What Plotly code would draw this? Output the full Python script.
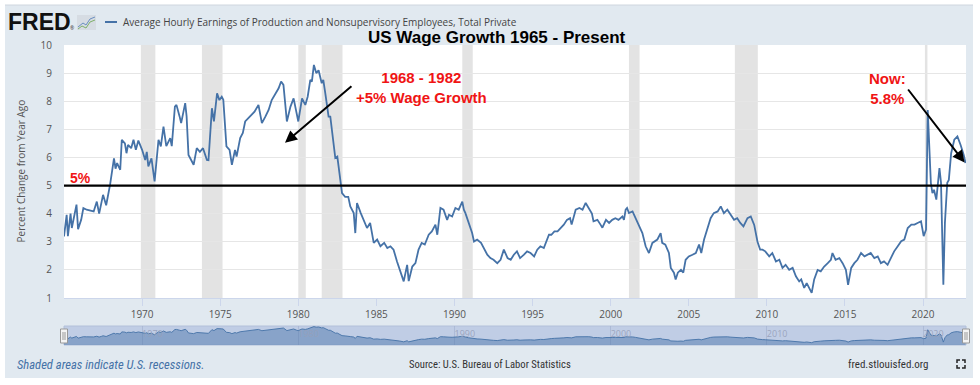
import plotly.graph_objects as go

# ---------------- data ----------------
years = [
    1965.00, 1965.17, 1965.25, 1965.42, 1965.50, 1965.80, 1965.90, 1966.10, 1966.24, 1966.45,
    1966.90, 1967.10, 1967.25, 1967.40, 1967.50, 1967.70, 1967.95, 1968.20, 1968.30, 1968.40,
    1968.60, 1968.70, 1968.90, 1969.00, 1969.10, 1969.30, 1969.45, 1969.60, 1969.76, 1970.00,
    1970.20, 1970.30, 1970.40, 1970.60, 1970.80, 1971.05, 1971.20, 1971.37, 1971.55, 1971.80,
    1971.90, 1972.10, 1972.20, 1972.40, 1972.50, 1972.76, 1972.85, 1972.97, 1973.20, 1973.30,
    1973.50, 1973.70, 1973.90, 1974.15, 1974.25, 1974.47, 1974.60, 1974.80, 1974.95, 1975.10,
    1975.20, 1975.30, 1975.40, 1975.60, 1975.75, 1975.95, 1976.05, 1976.28, 1976.45, 1976.60,
    1976.80, 1977.00, 1977.20, 1977.45, 1977.67, 1977.90, 1978.10, 1978.30, 1978.50, 1978.74,
    1978.90, 1979.05, 1979.27, 1979.50, 1979.70, 1979.90, 1980.00, 1980.24, 1980.45, 1980.60,
    1980.77, 1980.87, 1981.00, 1981.15, 1981.30, 1981.50, 1981.60, 1981.73, 1981.94, 1982.05,
    1982.26, 1982.37, 1982.50, 1982.70, 1982.80, 1983.00, 1983.20, 1983.33, 1983.55, 1983.65,
    1983.76, 1984.00, 1984.20, 1984.40, 1984.60, 1984.83, 1985.05, 1985.26, 1985.50, 1985.70,
    1985.90, 1986.10, 1986.32, 1986.50, 1986.75, 1986.97, 1987.07, 1987.30, 1987.50, 1987.70,
    1987.90, 1988.10, 1988.35, 1988.55, 1988.78, 1988.90, 1989.10, 1989.30, 1989.53, 1989.65,
    1989.85, 1990.06, 1990.27, 1990.50, 1990.60, 1990.70, 1990.90, 1991.13, 1991.25, 1991.45,
    1991.70, 1991.90, 1992.10, 1992.30, 1992.50, 1992.74, 1992.95, 1993.16, 1993.40, 1993.60,
    1993.80, 1994.00, 1994.20, 1994.45, 1994.65, 1994.87, 1995.10, 1995.30, 1995.50, 1995.72,
    1995.90, 1996.05, 1996.20, 1996.40, 1996.60, 1996.80, 1997.00, 1997.20, 1997.40, 1997.50,
    1997.76, 1998.00, 1998.20, 1998.40, 1998.60, 1998.80, 1998.90, 1999.15, 1999.35, 1999.47,
    1999.70, 1999.90, 2000.10, 2000.30, 2000.50, 2000.75, 2000.85, 2000.96, 2001.05, 2001.17,
    2001.40, 2001.60, 2001.80, 2002.03, 2002.24, 2002.45, 2002.67, 2002.85, 2002.99, 2003.20,
    2003.30, 2003.50, 2003.73, 2003.85, 2004.05, 2004.16, 2004.30, 2004.50, 2004.65, 2004.80,
    2005.00, 2005.24, 2005.45, 2005.66, 2005.80, 2005.98, 2006.20, 2006.40, 2006.60, 2006.85,
    2007.05, 2007.25, 2007.47, 2007.70, 2007.90, 2008.10, 2008.30, 2008.50, 2008.76, 2008.97,
    2009.19, 2009.40, 2009.57, 2009.72, 2009.90, 2010.15, 2010.35, 2010.58, 2010.80, 2011.00,
    2011.20, 2011.43, 2011.65, 2011.86, 2012.07, 2012.20, 2012.39, 2012.55, 2012.70, 2012.87,
    2013.03, 2013.25, 2013.45, 2013.67, 2013.90, 2014.10, 2014.20, 2014.40, 2014.64, 2014.85,
    2015.06, 2015.20, 2015.40, 2015.60, 2015.80, 2016.03, 2016.25, 2016.45, 2016.65, 2016.88,
    2017.10, 2017.30, 2017.50, 2017.73, 2017.95, 2018.15, 2018.38, 2018.60, 2018.80, 2019.02,
    2019.25, 2019.45, 2019.65, 2019.87, 2020.04, 2020.19, 2020.30, 2020.35, 2020.50, 2020.60,
    2020.70, 2020.85, 2021.05, 2021.15, 2021.30, 2021.40, 2021.55, 2021.65, 2021.80, 2022.00,
    2022.20, 2022.40, 2022.60, 2022.72,
]
values = [
    3.19, 3.96, 3.20, 4.00, 3.49, 4.32, 3.45, 3.78, 4.20, 4.14,
    4.08, 4.43, 4.00, 4.38, 4.67, 4.30, 5.03, 5.97, 5.60, 5.80,
    5.56, 6.63, 6.50, 6.15, 6.45, 6.33, 6.63, 6.27, 6.60, 6.27,
    5.91, 6.20, 5.68, 5.97, 5.15, 6.63, 6.39, 7.10, 6.40, 6.69,
    6.40, 7.81, 7.87, 7.46, 7.22, 7.93, 7.46, 6.09, 5.80, 5.74,
    6.33, 6.20, 6.33, 5.91, 5.90, 7.75, 7.28, 8.28, 8.04, 8.16,
    8.05, 7.28, 6.39, 6.27, 5.74, 6.27, 6.03, 6.69, 6.87, 7.28,
    7.40, 7.52, 7.63, 7.87, 7.22, 7.46, 7.69, 8.04, 8.22, 8.46,
    8.70, 8.58, 7.28, 7.81, 8.10, 7.46, 7.28, 8.10, 7.87, 8.16,
    8.76, 8.70, 9.29, 9.00, 9.10, 8.64, 8.76, 8.28, 7.45, 7.45,
    6.39, 5.98, 6.03, 5.00, 4.73, 4.60, 4.60, 4.26, 4.02, 3.31,
    4.38, 4.02, 3.78, 3.49, 3.67, 2.96, 3.08, 2.84, 2.96, 2.78,
    2.84, 2.72, 2.30, 2.00, 1.59, 2.18, 1.60, 2.12, 2.24, 2.72,
    2.96, 2.90, 3.25, 3.37, 3.61, 3.25, 4.20, 4.14, 3.78, 3.96,
    3.90, 4.20, 4.14, 4.43, 4.14, 4.02, 3.67, 3.31, 3.01, 3.08,
    2.96, 2.72, 2.54, 2.42, 2.36, 2.24, 2.36, 2.72, 2.42, 2.36,
    2.54, 2.66, 2.42, 2.54, 2.66, 2.60, 2.48, 2.72, 2.84, 2.78,
    3.08, 3.25, 3.25, 3.37, 3.37, 3.49, 3.61, 3.78, 3.84, 3.61,
    4.14, 4.20, 4.14, 4.38, 4.20, 4.00, 3.73, 3.78, 3.61, 3.50,
    3.78, 3.67, 3.78, 3.84, 3.78, 3.90, 3.78, 4.14, 4.20, 4.02,
    4.08, 3.84, 3.55, 3.31, 2.84, 2.60, 2.96, 3.02, 3.08, 3.31,
    2.96, 2.90, 2.60, 2.07, 1.90, 1.66, 1.90, 2.00, 1.90, 2.36,
    2.48, 2.54, 2.60, 2.90, 2.60, 3.08, 3.49, 3.84, 4.02, 4.08,
    4.26, 4.02, 4.14, 3.96, 3.78, 3.84, 3.67, 3.55, 3.84, 3.90,
    3.60, 3.00, 2.72, 2.72, 2.66, 2.48, 2.60, 2.30, 2.36, 2.07,
    2.18, 2.00, 2.07, 1.77, 1.59, 1.66, 1.36, 1.53, 1.36, 1.18,
    1.66, 2.00, 1.95, 2.12, 2.24, 2.36, 2.60, 2.36, 2.42, 2.24,
    2.00, 1.47, 2.07, 2.24, 2.36, 2.60, 2.48, 2.54, 2.60, 2.42,
    2.48, 2.24, 2.30, 2.18, 2.42, 2.66, 2.84, 3.02, 3.08, 3.49,
    3.61, 3.61, 3.67, 3.73, 3.20, 3.43, 7.69, 6.87, 5.09, 4.73,
    4.85, 4.50, 5.62, 5.10, 1.47, 3.67, 5.10, 5.20, 6.15, 6.63,
    6.75, 6.45, 6.10, 5.80,
]

recession_start = [1969.92, 1973.83, 1980.00, 1981.50, 1990.50, 2001.17, 2007.95, 2020.12]
recession_end = [1970.85, 1975.15, 1980.48, 1982.83, 1991.17, 2001.85, 2009.42, 2020.28]

x_ticks = [1970, 1975, 1980, 1985, 1990, 1995, 2000, 2005, 2010, 2015, 2020]
nav_ticks = [1970, 1980, 1990, 2000, 2010, 2020]
y_ticks = [1, 2, 3, 4, 5, 6, 7, 8, 9, 10]
threshold = 5
x_range = [1965.0, 2022.75]

series_name = "Average Hourly Earnings of Production and Nonsupervisory Employees, Total Private"
title_text = "US Wage Growth 1965 - Present"

# ---------------- layout helpers (pixel -> paper) ----------------
W, H = 980, 385
ML, MR, MT, MB = 64, 14, 45, 40
PW, PH = W - ML - MR, H - MT - MB


def px(x):
    return (x - ML) / PW


def py(y):
    return (H - MB - y) / PH


LINE = "#4572a7"
PANEL = "#e1e9f0"
RED = "#f01414"
FONT = "Open Sans, Liberation Sans, sans-serif"
NARROW = "Liberation Sans Narrow, Roboto Condensed, Open Sans, sans-serif"

fig = go.Figure()

fig.add_trace(go.Scatter(
    x=years, y=values, mode="lines", name=series_name,
    line=dict(color=LINE, width=1.8), xaxis="x", yaxis="y",
    hoverinfo="skip", showlegend=False,
))

fig.add_trace(go.Scatter(
    x=years, y=values, mode="lines", fill="tozeroy",
    line=dict(color="rgba(69,114,167,0.9)", width=1),
    fillcolor="rgba(69,114,167,0.45)", xaxis="x2", yaxis="y2",
    hoverinfo="skip", showlegend=False,
))

shapes = []
# navigator background
shapes.append(dict(type="rect", xref="x2 domain", yref="y2 domain", x0=0, x1=1, y0=0, y1=1,
                   fillcolor="rgb(192,205,229)", line=dict(width=1, color="rgb(178,192,218)"),
                   layer="below"))
# recession bands
for s, e in zip(recession_start, recession_end):
    shapes.append(dict(type="rect", xref="x", yref="y domain", x0=s, x1=e, y0=0, y1=1,
                       fillcolor="#e3e3e3", line=dict(width=0), layer="below"))
# 5% threshold line
shapes.append(dict(type="line", xref="x domain", yref="y", x0=0, x1=1, y0=threshold, y1=threshold,
                   line=dict(color="black", width=2.2)))
# white outer border
for (a, b, c, d) in [(0, 0, W, 5), (0, 0, 5, H), (973, 0, W, H), (0, 378, W, H)]:
    shapes.append(dict(type="rect", xref="paper", yref="paper", x0=px(a), x1=px(c),
                       y0=py(d), y1=py(b), fillcolor="white", line=dict(width=0)))
shapes.append(dict(type="line", xref="paper", yref="paper", x0=px(5), x1=px(973), y0=py(5), y1=py(5),
                   line=dict(color="#cfd6de", width=1)))
# legend swatch
shapes.append(dict(type="line", xref="paper", yref="paper", x0=px(105), x1=px(117), y0=py(22), y1=py(22),
                   line=dict(color=LINE, width=2)))
# FRED icon
shapes.append(dict(type="rect", xref="paper", yref="paper", x0=px(77), x1=px(96), y0=py(30), y1=py(15),
                   fillcolor="#d6dce3", line=dict(width=0)))
shapes.append(dict(type="path", xref="paper", yref="paper",
                   path="M {} {} L {} {} L {} {} L {} {} L {} {}".format(
                       px(78), py(27), px(83), py(23), px(86), py(25), px(90), py(19), px(95), py(17)),
                   line=dict(color="#6a8fc0", width=1)))
shapes.append(dict(type="path", xref="paper", yref="paper",
                   path="M {} {} L {} {} L {} {} L {} {} L {} {}".format(
                       px(78), py(29), px(82), py(26), px(86), py(28), px(90), py(22), px(95), py(20)),
                   line=dict(color="#7fb069", width=1)))
# navigator handles
for hx in [64, 966]:
    shapes.append(dict(type="rect", xref="paper", yref="paper", x0=px(hx - 3.5), x1=px(hx + 3.5),
                       y0=py(343), y1=py(329), fillcolor="#f4f4f4", line=dict(color="#999", width=1)))
    for lx in [hx - 1, hx + 1]:
        shapes.append(dict(type="line", xref="paper", yref="paper", x0=px(lx), x1=px(lx),
                           y0=py(340), y1=py(332), line=dict(color="#999", width=1)))
# fullscreen icon
for (cx, cy, dx, dy) in [(957, 360, 1, 1), (965, 360, -1, 1), (957, 368, 1, -1), (965, 368, -1, -1)]:
    shapes.append(dict(type="path", xref="paper", yref="paper",
                       path="M {} {} L {} {} L {} {}".format(px(cx), py(cy + 3 * dy), px(cx), py(cy),
                                                             px(cx + 3 * dx), py(cy)),
                       line=dict(color="#222", width=1.5)))

annotations = []
annotations.append(dict(text="<b>FRED</b>", xref="paper", yref="paper", x=px(6), y=py(22),
                        xanchor="left", yanchor="middle", showarrow=False,
                        font=dict(family="Liberation Sans, Arial, sans-serif", size=23, color="#111")))
annotations.append(dict(text="®", xref="paper", yref="paper", x=px(68), y=py(28),
                        xanchor="left", yanchor="middle", showarrow=False,
                        font=dict(family=FONT, size=5, color="#333")))
annotations.append(dict(text=series_name, xref="paper", yref="paper", x=px(121), y=py(22),
                        xanchor="left", yanchor="middle", showarrow=False,
                        font=dict(family=FONT, size=10, color="#444")))
annotations.append(dict(text="<b>" + title_text + "</b>", xref="paper", yref="paper", x=px(497), y=py(37),
                        xanchor="center", yanchor="middle", showarrow=False,
                        font=dict(family="Liberation Sans, Arial, sans-serif", size=17, color="black")))
annotations.append(dict(text="Percent Change from Year Ago", xref="paper", yref="paper", x=px(21), y=0.5 + 0.5 * 0.1567,
                        xanchor="center", yanchor="middle", showarrow=False, textangle=-90,
                        font=dict(family=FONT, size=10, color="#555")))
# red callouts
bold = "Liberation Sans, Arial, sans-serif"
annotations.append(dict(text="<b>5%</b>", xref="x", yref="y", x=1965.25, y=5.28, xanchor="left",
                        yanchor="middle", showarrow=False, font=dict(family=bold, size=14, color=RED)))
annotations.append(dict(text="<b>1968 - 1982<br>+5% Wage Growth</b>", xref="x", yref="y", x=1987.9, y=8.48,
                        xanchor="center", yanchor="middle", showarrow=False,
                        font=dict(family=bold, size=15, color=RED)))
annotations.append(dict(text="<b>Now:<br>5.8%</b>", xref="x", yref="y", x=2017.75, y=8.47,
                        xanchor="center", yanchor="middle", showarrow=False,
                        font=dict(family=bold, size=15, color=RED)))
# arrows
annotations.append(dict(text="", xref="x", yref="y", x=1979.15, y=6.52, axref="x", ayref="y",
                        ax=1983.5, ay=8.58, showarrow=True, arrowhead=2, arrowsize=1.2,
                        arrowwidth=2, arrowcolor="black"))
annotations.append(dict(text="", xref="x", yref="y", x=2022.66, y=5.82, axref="x", ayref="y",
                        ax=2018.97, ay=8.47, showarrow=True, arrowhead=2, arrowsize=1.2,
                        arrowwidth=2, arrowcolor="black"))
# footer
annotations.append(dict(text="<i>Shaded areas indicate U.S. recessions.</i>", xref="paper", yref="paper",
                        x=px(15), y=py(364), xanchor="left", yanchor="middle", showarrow=False,
                        font=dict(family=NARROW, size=12.6, color="#4572a7")))
annotations.append(dict(text="Source: U.S. Bureau of Labor Statistics", xref="paper", yref="paper",
                        x=px(490), y=py(364), xanchor="center", yanchor="middle", showarrow=False,
                        font=dict(family=NARROW, size=10.6, color="#333")))
annotations.append(dict(text="fred.stlouisfed.org", xref="paper", yref="paper",
                        x=px(930), y=py(364), xanchor="right", yanchor="middle", showarrow=False,
                        font=dict(family=NARROW, size=11, color="#333")))

main_bottom = (H - MB - 298) / PH
nav_top = (H - MB - 326) / PH

fig.update_layout(
    width=W, height=H,
    margin=dict(l=ML, r=MR, t=MT, b=MB),
    paper_bgcolor=PANEL, plot_bgcolor="white",
    showlegend=False,
    shapes=shapes, annotations=annotations,
    xaxis=dict(domain=[0, 1], anchor="y", range=x_range, tickmode="array", tickvals=x_ticks,
               ticktext=[str(t) for t in x_ticks], showgrid=False, zeroline=False,
               ticks="outside", ticklen=7, tickcolor="#ccd6eb", showline=True, linecolor="#ccd6eb",
               tickfont=dict(family=FONT, size=10, color="#555")),
    yaxis=dict(domain=[main_bottom, 1], anchor="x", range=[1, 10], tickmode="array", tickvals=y_ticks,
               showgrid=True, gridcolor="#e6e6e6", gridwidth=1, zeroline=False, showline=False,
               ticks="outside", ticklen=9, tickcolor="rgba(0,0,0,0)",
               tickfont=dict(family=FONT, size=10, color="#555")),
    xaxis2=dict(domain=[0, 1], anchor="y2", range=x_range, tickmode="array", tickvals=nav_ticks,
                ticktext=[str(t) for t in nav_ticks], showgrid=True, gridcolor="rgba(160,175,205,0.6)",
                ticklabelposition="inside right", zeroline=False, showline=False, ticks="",
                tickfont=dict(family=FONT, size=9, color="rgba(150,160,185,0.9)")),
    yaxis2=dict(domain=[0, nav_top], anchor="x2", range=[0, 9.6], visible=False),
)

fig.write_html("out.html", config={"displayModeBar": False},
               post_script="document.body.style.margin='0';document.body.style.overflow='hidden';")
